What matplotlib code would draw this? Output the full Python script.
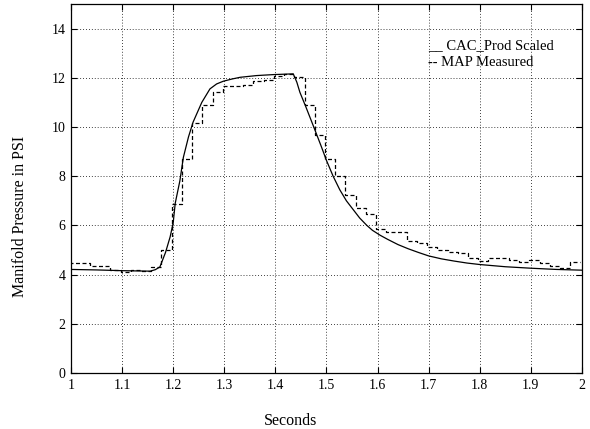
import numpy as np
import matplotlib
matplotlib.use("Agg")
import matplotlib.pyplot as plt

plt.rcParams['font.family'] = ['Liberation Serif', 'DejaVu Serif']

# Solid curve: CAC_Prod Scaled (time in s, pressure in PSI)
cac_t = [1.0, 1.05, 1.1, 1.155, 1.165, 1.174, 1.185, 1.194, 1.2, 1.204, 1.213,
         1.22, 1.23, 1.239, 1.256, 1.272, 1.285, 1.298, 1.315, 1.331, 1.363,
         1.396, 1.435, 1.442, 1.448, 1.46, 1.477, 1.49, 1.5, 1.513, 1.526,
         1.539, 1.552, 1.565, 1.579, 1.59, 1.605, 1.62, 1.64, 1.66, 1.68,
         1.7, 1.725, 1.75, 1.775, 1.8, 1.85, 1.9, 1.95, 2.0]
cac_p = [4.21, 4.19, 4.16, 4.14, 4.2, 4.31, 4.9, 5.53, 6.1, 6.9, 7.8,
         8.77, 9.6, 10.2, 11.0, 11.55, 11.75, 11.86, 11.95, 12.02, 12.09,
         12.13, 12.16, 11.82, 11.41, 10.8, 9.9, 9.2, 8.64, 8.0, 7.45,
         7.0, 6.65, 6.3, 6.0, 5.8, 5.6, 5.43, 5.22, 5.05, 4.9,
         4.76, 4.64, 4.55, 4.47, 4.41, 4.32, 4.26, 4.21, 4.18]

# Dashed stair curve: MAP Measured (sample start times, values)
map_t = [0.997, 1.017, 1.037, 1.057, 1.077, 1.097, 1.117, 1.137, 1.157, 1.177,
         1.197, 1.217, 1.237, 1.257, 1.277, 1.297, 1.317, 1.337, 1.357, 1.377,
         1.397, 1.417, 1.437, 1.457, 1.477, 1.497, 1.517, 1.537, 1.557, 1.577,
         1.597, 1.617, 1.637, 1.657, 1.677, 1.697, 1.717, 1.737, 1.757, 1.777,
         1.797, 1.817, 1.837, 1.857, 1.877, 1.897, 1.917, 1.937, 1.957, 1.977,
         1.997]
map_p = [4.49, 4.49, 4.34, 4.34, 4.18, 4.12, 4.2, 4.15, 4.29, 4.99,
         6.88, 8.7, 10.15, 10.9, 11.41, 11.68, 11.68, 11.7, 11.86, 11.9,
         12.09, 12.16, 12.05, 10.9, 9.68, 8.68, 7.99, 7.24, 6.7, 6.45,
         5.87, 5.73, 5.73, 5.37, 5.3, 5.12, 4.99, 4.93, 4.86, 4.68,
         4.55, 4.69, 4.69, 4.58, 4.51, 4.58, 4.47, 4.34, 4.25, 4.52,
         4.52]

xticks = [1, 1.1, 1.2, 1.3, 1.4, 1.5, 1.6, 1.7, 1.8, 1.9, 2]
xticklabels = ['1', '1.1', '1.2', '1.3', '1.4', '1.5', '1.6', '1.7', '1.8', '1.9', '2']
yticks = [0, 2, 4, 6, 8, 10, 12, 14]

fig = plt.figure(figsize=(5.90, 4.29), dpi=100)
ax = fig.add_axes([0.1203, 0.1305, 0.8661, 0.8602])

ax.plot(cac_t, cac_p, color='black', linewidth=0.9, linestyle='-')
ax.step(map_t, map_p, where='post', color='black', linewidth=0.9,
        linestyle=(0, (3.2, 2.0)))

ax.set_xlim(1, 2)
ax.set_ylim(0, 15)
ax.set_xticks(xticks)
ax.set_xticklabels(xticklabels)
ax.set_yticks(yticks)
ax.grid(True, color='black', linestyle=(0, (1, 2.5)), linewidth=0.6)
ax.tick_params(direction='in', length=4, width=0.8, top=True, right=True,
               labelsize=10, pad=4)
for s in ax.spines.values():
    s.set_linewidth(0.9)

ax.text(1.699, 13.31, '__ CAC_Prod Scaled', fontsize=10.5, va='center', ha='left')
ax.text(1.699, 12.63, '-- MAP Measured', fontsize=10.5, va='center', ha='left')

ax.set_xlabel('Seconds', fontsize=11.5)
ax.xaxis.set_label_coords(0.43, -0.108)
ax.set_ylabel('Manifold Pressure in PSI', fontsize=11.5)
ax.yaxis.set_label_coords(-0.085, 0.424)

fig.savefig('out.png', dpi=100)
